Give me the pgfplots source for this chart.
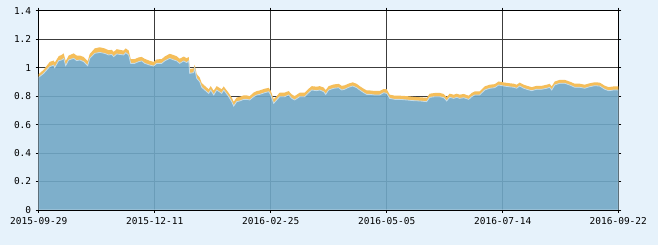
\documentclass[border=0pt]{standalone}
\usepackage{fontspec}
\setmonofont{DejaVu Sans Mono}
\usepackage{pgfplots}
\pgfplotsset{compat=1.18}
\usepackage{pgfplotstable}
\usepgfplotslibrary{fillbetween}
\definecolor{bgc}{RGB}{230,242,251}
\definecolor{areab}{RGB}{112,167,198}
\definecolor{areao}{RGB}{245,190,90}
\definecolor{gridc}{RGB}{60,60,60}
\pagecolor{bgc}
\pgfplotstableread{
x b o
0 0.932 0.955
5 0.960 0.985
11 1.007 1.040
15 1.018 1.050
16 1.000 1.035
20 1.049 1.080
23 1.054 1.090
25 1.065 1.100
27 1.014 1.045
30 1.054 1.085
35 1.065 1.100
38 1.049 1.085
41 1.054 1.085
45 1.042 1.075
49 1.014 1.045
51 1.065 1.095
56 1.100 1.135
61 1.107 1.143
66 1.100 1.135
70 1.089 1.122
73 1.093 1.125
75 1.077 1.110
78 1.096 1.130
81 1.093 1.125
85 1.089 1.120
87 1.105 1.135
90 1.089 1.120
92 1.030 1.060
96 1.030 1.060
100 1.042 1.072
103 1.047 1.075
106 1.030 1.062
111 1.018 1.048
115 1.011 1.040
118 1.030 1.058
123 1.030 1.060
126 1.047 1.078
131 1.065 1.097
135 1.054 1.088
138 1.047 1.080
141 1.030 1.062
145 1.047 1.078
148 1.035 1.066
150 1.047 1.075
151 0.960 0.990
155 0.965 0.995
156 0.995 1.020
158 0.925 0.955
161 0.901 0.930
163 0.862 0.892
166 0.843 0.873
170 0.819 0.848
172 0.843 0.870
175 0.808 0.838
178 0.843 0.870
183 0.819 0.848
185 0.843 0.868
190 0.796 0.822
193 0.761 0.790
195 0.730 0.760
198 0.761 0.790
201 0.766 0.795
205 0.777 0.805
208 0.777 0.805
211 0.773 0.800
215 0.796 0.825
218 0.808 0.835
221 0.812 0.840
226 0.824 0.852
230 0.831 0.858
232 0.808 0.838
235 0.749 0.778
238 0.773 0.800
241 0.796 0.825
246 0.796 0.825
250 0.808 0.835
253 0.784 0.812
256 0.773 0.800
261 0.796 0.824
266 0.796 0.824
270 0.824 0.852
273 0.843 0.870
278 0.838 0.866
281 0.843 0.870
285 0.831 0.860
287 0.812 0.842
290 0.843 0.870
295 0.855 0.882
300 0.859 0.886
303 0.843 0.872
306 0.848 0.876
310 0.862 0.888
314 0.871 0.897
318 0.859 0.886
321 0.843 0.870
325 0.824 0.852
328 0.812 0.840
331 0.812 0.840
336 0.808 0.836
341 0.808 0.836
345 0.824 0.850
348 0.819 0.848
351 0.784 0.810
356 0.777 0.803
361 0.777 0.803
368 0.773 0.800
375 0.768 0.795
381 0.766 0.792
388 0.761 0.788
391 0.791 0.817
396 0.796 0.822
401 0.796 0.822
405 0.789 0.815
408 0.766 0.793
411 0.791 0.817
415 0.784 0.810
418 0.791 0.817
421 0.784 0.810
425 0.789 0.815
430 0.777 0.803
433 0.796 0.822
436 0.808 0.833
441 0.808 0.833
446 0.843 0.868
451 0.855 0.880
456 0.859 0.884
460 0.878 0.903
465 0.871 0.896
470 0.866 0.891
475 0.862 0.887
478 0.855 0.880
481 0.871 0.895
485 0.855 0.880
488 0.848 0.873
493 0.838 0.863
498 0.848 0.872
503 0.848 0.872
508 0.855 0.880
511 0.862 0.886
513 0.843 0.868
516 0.878 0.902
521 0.890 0.914
526 0.890 0.914
531 0.878 0.902
536 0.862 0.887
541 0.862 0.887
546 0.855 0.880
551 0.866 0.890
556 0.873 0.897
561 0.871 0.895
566 0.848 0.873
570 0.838 0.863
575 0.843 0.868
579.6 0.843 0.868
}\datatab
\begin{document}
\begin{tikzpicture}
\path (-38.7pt,-35pt) rectangle (619.3pt,210pt);
\begin{axis}[
  at={(0,0)}, anchor=south west,
  scale only axis, width=579.6pt, height=199.3pt,
  xmin=0, xmax=579.6, ymin=0, ymax=1.4,
  axis background/.style={fill=white},
  xtick={0,116,232,348,464,579.6},
  xticklabels={2015-09-29,2015-12-11,2016-02-25,2016-05-05,2016-07-14,2016-09-22},
  ytick={0,0.2,0.4,0.6,0.8,1,1.2,1.4},
  yticklabels={0,0.2,0.4,0.6,0.8,1,1.2,1.4},
  grid=major,
  major grid style={gridc, line width=0.9pt},
  axis line style={black, line width=0.9pt},
  tick style={black, line width=0.8pt},
  tick align=outside, major tick length=3pt,
  ticklabel style={font=\ttfamily\fontsize{9.5}{10}\selectfont, text=black},
  /pgf/number format/assume math mode=true,
  xticklabel style={yshift=-1pt},
  yticklabel style={xshift=-1pt},
]
\addplot[draw=none, name path=B, forget plot] table[x=x,y=b]{\datatab};
\addplot[draw=none, name path=O, forget plot] table[x=x,y=o]{\datatab};
\addplot[fill=areao, draw=none] fill between[of=O and B];
\addplot[fill=areab, fill opacity=0.9, draw=white!60!areab, line width=0.8pt] table[x=x,y=b]{\datatab} \closedcycle;
\end{axis}
\end{tikzpicture}
\end{document}
